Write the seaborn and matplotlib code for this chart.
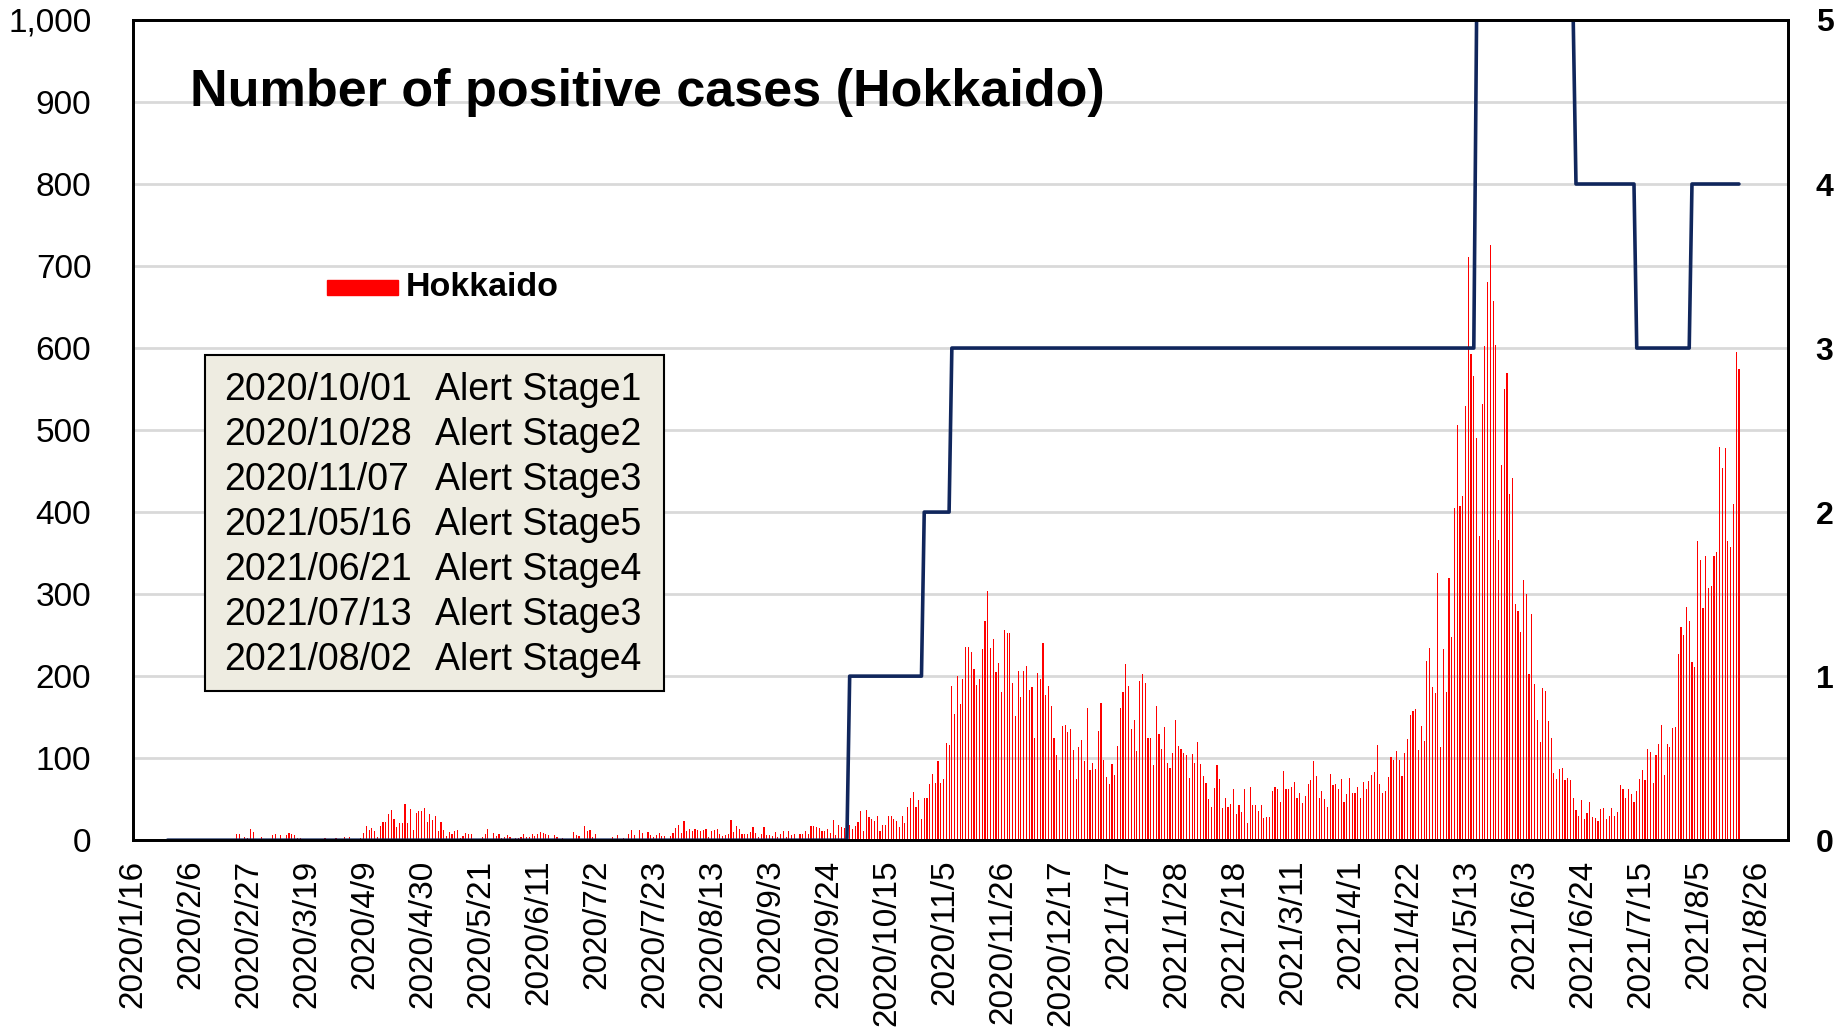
import pandas as pd
import numpy as np
import matplotlib
matplotlib.use('Agg')
import matplotlib.pyplot as plt
from matplotlib.patches import Rectangle
import seaborn as sns

# daily positive cases, Hokkaido, from 2020/1/28
start_date = '2020-01-28'
cases = [
    0, 0, 0, 0, 0, 0, 0, 0, 0, 0, 0, 0, 0, 0, 0, 0, 0, 0, 0, 0, 0, 0,
    1, 0, 2, 8, 8, 2, 4, 3, 14, 10,
    2, 1, 4, 1, 2, 0, 6, 7, 2, 6,
    2, 6, 9, 8, 6, 3, 3, 0, 1, 2,
    0, 0, 2, 0, 0, 3, 0, 0, 2, 3,
    0, 0, 4, 2, 4, 2, 0, 0, 3, 9,
    17, 12, 15, 11, 4, 17, 22, 22, 32, 37,
    26, 16, 21, 21, 44, 21, 38, 13, 33, 36,
    36, 39, 22, 32, 24, 30, 11, 22, 13, 5,
    10, 8, 11, 12, 3, 5, 9, 7, 7, 0,
    2, 0, 4, 7, 14,
    2, 9, 5, 7, 3, 4, 6, 4, 2, 3,
    3, 4, 8, 4, 4, 7, 5, 7, 10, 9,
    7, 6, 2, 6, 4, 2, 3, 2, 2, 0,
    10, 6, 5, 0, 17, 11, 13, 4, 8, 0,
    0, 0, 0, 0, 4, 0, 6, 0, 3, 2,
    8, 13, 6, 2, 13, 9, 2, 10, 6, 4,
    6, 9, 5, 5, 2, 5, 9, 15, 18, 9,
    23, 11, 14, 11, 14, 13, 11, 13, 14, 4,
    11, 12, 14, 7, 5, 6, 8, 25, 10, 17,
    14, 8, 7, 7, 10, 16, 9, 4, 8, 16,
    6, 6, 5, 10, 4, 7, 11, 4, 11, 6,
    7, 2, 8, 8, 11, 7, 17, 17, 16, 15,
    11, 11, 14, 9, 24, 6, 18, 16, 15, 18,
    18, 14, 17, 22, 35, 11, 37, 28, 26, 23,
    30, 11, 19, 19, 29, 30, 26, 23, 16, 30,
    21, 40, 51, 59, 40, 49, 26, 51, 52, 69,
    81, 70, 96, 70, 75, 119, 116, 188, 154, 200,
    166, 197, 235, 235, 230, 209, 189, 197, 233, 267,
    304, 234, 245, 205, 216, 181, 256, 252, 252, 192,
    152, 206, 174, 206, 212, 183, 187, 124, 204, 197,
    241, 177, 188, 164, 125, 104, 86, 139, 140, 132,
    135, 110, 74, 114, 122, 97, 161, 85, 94, 87,
    133, 167, 98, 77, 68, 93, 79, 115, 161, 181,
    215, 188, 135, 146, 109, 194, 202, 192, 124, 125,
    92, 164, 130, 111, 138, 94, 88, 106, 147, 115,
    111, 106, 104, 76, 105, 94, 120, 93, 78, 70,
    50, 41, 64, 92, 75, 39, 52, 41, 44, 63,
    32, 43, 34, 63, 21, 65, 43, 43, 35, 43,
    27, 28, 28, 60, 65, 63, 46, 84, 63, 63,
    65, 71, 52, 57, 45, 54, 69, 73, 96, 78,
    51, 60, 50, 41, 81, 67, 69, 62, 74, 46,
    56, 76, 57, 57, 65, 52, 71, 63, 72, 79,
    83, 116, 69, 58, 60, 77, 101, 98, 109, 98,
    78, 106, 123, 153, 158, 160, 110, 139, 121, 218,
    234, 187, 179, 326, 114, 233, 181, 320, 248, 405,
    506, 408, 420, 529, 711, 593, 566, 490, 371, 532,
    603, 681, 726, 657, 604, 366, 458, 550, 569, 422,
    442, 288, 279, 254, 317, 300, 202, 276, 190, 147,
    120, 185, 182, 145, 125, 82, 74, 87, 88, 73,
    76, 73, 52, 37, 29, 49, 26, 33, 47, 28,
    27, 23, 38, 39, 26, 30, 39, 29, 34, 67,
    63, 51, 63, 56, 47, 60, 75, 85, 73, 111,
    107, 70, 104, 117, 140, 79, 117, 113, 137, 138,
    227, 260, 250, 284, 267, 217, 211, 365, 342, 283,
    347, 307, 310, 347, 351, 479, 454, 478, 365, 357,
    410, 595, 574,
]

# alert stage in force from each date
stage_dates = ['2020-01-28', '2020-10-01', '2020-10-28', '2020-11-07',
               '2021-05-16', '2021-06-21', '2021-07-13', '2021-08-02']
stage_levels = [0, 1, 2, 3, 5, 4, 3, 4]

box_dates = ['2020/10/01', '2020/10/28', '2020/11/07', '2021/05/16',
             '2021/06/21', '2021/07/13', '2021/08/02']
box_labels = ['Alert Stage1', 'Alert Stage2', 'Alert Stage3', 'Alert Stage5',
              'Alert Stage4', 'Alert Stage3', 'Alert Stage4']

axis_start = pd.Timestamp('2020-01-16')
tick_dates = pd.date_range('2020-01-16', '2021-08-26', freq='21D')

df = pd.DataFrame({'date': pd.date_range(start_date, periods=len(cases)),
                   'cases': cases})
df['x'] = (df['date'] - axis_start).dt.days + 0.5
stage = pd.Series(stage_levels, index=pd.to_datetime(stage_dates))
df['stage'] = stage.reindex(df['date']).ffill().values

sns.set_theme(style='white')
plt.rcParams['font.family'] = ['Liberation Sans', 'DejaVu Sans']
plt.rcParams['text.color'] = 'black'
plt.rcParams['xtick.color'] = 'black'
plt.rcParams['ytick.color'] = 'black'

fig, ax = plt.subplots(figsize=(18.45, 10.29), dpi=100)
fig.subplots_adjust(left=0.0721, right=0.969, bottom=0.1835, top=0.9806)

sns.barplot(data=df, x='x', y='cases', native_scale=True, color='#FF0000',
            saturation=1, width=0.42, errorbar=None, linewidth=0, ax=ax)

ax2 = ax.twinx()
sns.lineplot(data=df, x='x', y='stage', color='#10265C', linewidth=2.6, ax=ax2)

xmax = 599.2
for a in (ax, ax2):
    a.set_xlim(0, xmax)
    a.set_xlabel('')
    a.set_ylabel('')

ax.set_ylim(0, 1000)
ax.set_yticks(range(0, 1001, 100))
ax.set_yticklabels([f'{v:,}' for v in range(0, 1001, 100)], fontsize=24)
ax.yaxis.grid(True, color='#D9D9D9', linewidth=2)
ax.set_axisbelow(True)

ax2.set_ylim(0, 5)
ax2.set_yticks(range(6))
ax2.set_yticklabels([str(v) for v in range(6)], fontsize=23, fontweight='heavy')

tick_pos = (tick_dates - axis_start).days
ax.set_xticks(tick_pos)
ax.set_xticklabels([f'{d.year}/{d.month}/{d.day}' for d in tick_dates],
                   rotation=90, fontsize=24)
ax.tick_params(axis='x', length=8, width=2, color='black', pad=6, direction='out')
ax.tick_params(axis='y', length=0, pad=30)
ax2.tick_params(axis='y', length=0, pad=20)
ax2.tick_params(axis='x', length=0)

for a in (ax, ax2):
    for sp in a.spines.values():
        sp.set_color('black')
        sp.set_linewidth(2)

# title
fig.text(190 / 1845, 1 - 93 / 1029, 'Number of positive cases (Hokkaido)',
         fontsize=37.5, fontweight='bold', va='center', ha='left')

# legend
fig.add_artist(Rectangle((327 / 1845, 1 - 295 / 1029), 71 / 1845, 15 / 1029,
                         transform=fig.transFigure, color='#FF0000', zorder=5))
fig.text(406 / 1845, 1 - 288 / 1029, 'Hokkaido', fontsize=24.5, fontweight='bold',
         va='center', ha='left', zorder=5)

# alert stage box
fig.add_artist(Rectangle((205 / 1845, 1 - 691 / 1029), 459 / 1845, 336 / 1029,
                         transform=fig.transFigure, facecolor='#EEECE1',
                         edgecolor='black', linewidth=1.5, zorder=5))
for i, (dt, lab) in enumerate(zip(box_dates, box_labels)):
    yy = 1 - (390 + i * 45) / 1029
    fig.text(224 / 1845, yy, dt, fontsize=27, va='center', ha='left', zorder=6)
    fig.text(435 / 1845, yy, lab, fontsize=27, va='center', ha='left', zorder=6)

fig.savefig('out.png', dpi=100)
